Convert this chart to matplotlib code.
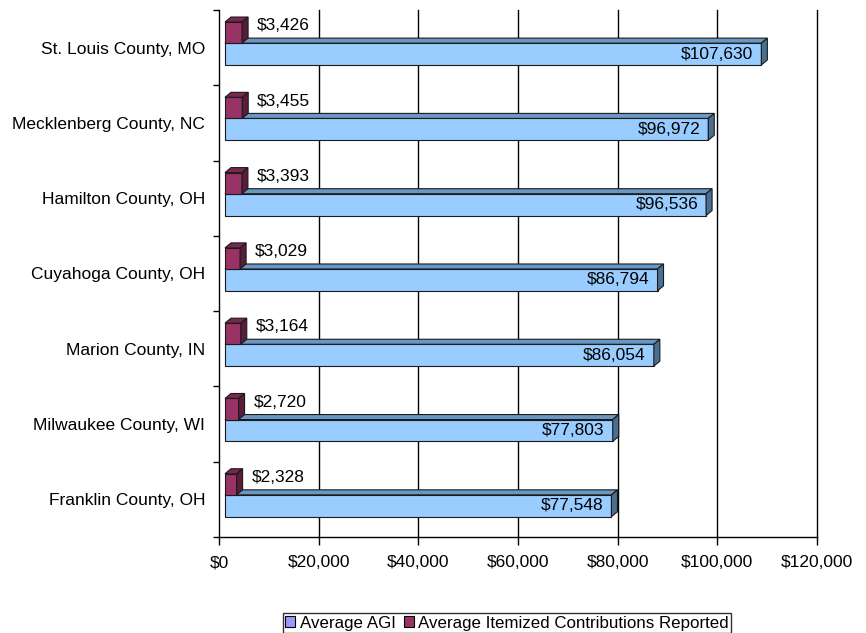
import matplotlib
matplotlib.use("Agg")
import matplotlib.pyplot as plt
from matplotlib.patches import Polygon, Patch
import numpy as np

plt.rcParams['font.family'] = ['Liberation Sans', 'DejaVu Sans']

counties = ["St. Louis County, MO", "Mecklenberg County, NC", "Hamilton County, OH",
            "Cuyahoga County, OH", "Marion County, IN", "Milwaukee County, WI",
            "Franklin County, OH"]
avg_agi = [107630, 96972, 96536, 86794, 86054, 77803, 77548]
avg_contrib = [3426, 3455, 3393, 3029, 3164, 2720, 2328]
xticks = [0, 20000, 40000, 60000, 80000, 100000, 120000]

W, H = 866, 633
fig = plt.figure(figsize=(W / 100, H / 100), dpi=100)
fig.patch.set_facecolor('white')
# axes: x from 219 px to 817 px, y from 10 px to 537 px (from top)
ax = fig.add_axes([219 / W, (H - 537) / H, (817 - 219) / W, (537 - 10) / H])
ax.set_xlim(0, 120000)
ax.set_ylim(len(counties) - 0.5, -0.5)

# pixel -> data conversions
p0 = ax.transData.transform((0, 0))
p1 = ax.transData.transform((1, 1))
sx = p1[0] - p0[0]          # px per data x unit
sy = abs(p1[1] - p0[1])     # px per data y unit
px_x = lambda p: p / sx
px_y = lambda p: p / sy

x0 = px_x(6)     # front face offset
ddx = px_x(6)    # depth in x
ddy = px_y(5)    # depth in y (upward => negative data y)

blue_front, blue_top, blue_side = '#99CCFF', '#6A98C4', '#4A7091'
mar_front, mar_top, mar_side = '#993366', '#7A2850', '#5A1C3A'
ec = '#1a1a1a'
lw = 0.8

def bar3d(x_end, ytop, ybot, cf, ct, cs, z):
    xa, xb = x0, x0 + x_end
    front = Polygon([(xa, ytop), (xb, ytop), (xb, ybot), (xa, ybot)], closed=True,
                    facecolor=cf, edgecolor=ec, linewidth=lw, zorder=z)
    top = Polygon([(xa, ytop), (xb, ytop), (xb + ddx, ytop - ddy), (xa + ddx, ytop - ddy)],
                  closed=True, facecolor=ct, edgecolor=ec, linewidth=lw, zorder=z)
    side = Polygon([(xb, ytop), (xb + ddx, ytop - ddy), (xb + ddx, ybot - ddy), (xb, ybot)],
                   closed=True, facecolor=cs, edgecolor=ec, linewidth=lw, zorder=z)
    for p in (front, top, side):
        ax.add_patch(p)

for i, (agi, con) in enumerate(zip(avg_agi, avg_contrib)):
    # blue AGI bar
    bar3d(agi, i - 0.06, i + 0.23, blue_front, blue_top, blue_side, 3)
    # maroon contributions bar
    bar3d(con, i - 0.34, i - 0.06, mar_front, mar_top, mar_side, 4)
    ax.text(x0 + agi - px_x(8), i + 0.085, "$" + f"{agi:,}", ha='right', va='center',
            fontsize=12.5, color='black', zorder=6)
    ax.text(x0 + con + px_x(15), i - 0.29, "$" + f"{con:,}", ha='left', va='center',
            fontsize=12.5, color='black', zorder=6)

# gridlines
for xv in xticks[1:]:
    ax.axvline(xv, color='black', linewidth=1.0, zorder=1, clip_on=False)

ax.set_xticks(xticks)
ax.set_xticklabels(["$" + f"{v:,}" for v in xticks], fontsize=12.5)
ax.tick_params(axis='x', direction='out', length=6, width=1, pad=7, colors='black')

ax.set_yticks(range(len(counties)))
ax.set_yticklabels(counties, fontsize=12.5)
ax.tick_params(axis='y', which='major', length=0, pad=10)
ax.set_yticks(np.arange(-0.5, len(counties) + 0.5, 1.0), minor=True)
ax.tick_params(axis='y', which='minor', direction='out', length=4.5, width=1, colors='black')

for s in ('top', 'right'):
    ax.spines[s].set_visible(False)
ax.spines['left'].set_color('black')
ax.spines['bottom'].set_color('black')
ax.spines['left'].set_linewidth(1)
ax.spines['bottom'].set_linewidth(1)
ax.set_facecolor('white')

handles = [Patch(facecolor='#9999FF', edgecolor='black', linewidth=0.8, label='Average AGI'),
           Patch(facecolor='#993366', edgecolor='black', linewidth=0.8,
                 label='Average Itemized Contributions Reported')]
leg = fig.legend(handles=handles, loc='upper center', bbox_to_anchor=(507 / W, 1 - 613 / H),
                 ncol=2, fontsize=12.2, frameon=True, fancybox=False, edgecolor='black',
                 handlelength=0.6, handleheight=0.6, handletextpad=0.25, columnspacing=0.5,
                 borderpad=0.15, borderaxespad=0)
leg.get_frame().set_linewidth(1)

fig.savefig('out.png', dpi=100, facecolor='white')
